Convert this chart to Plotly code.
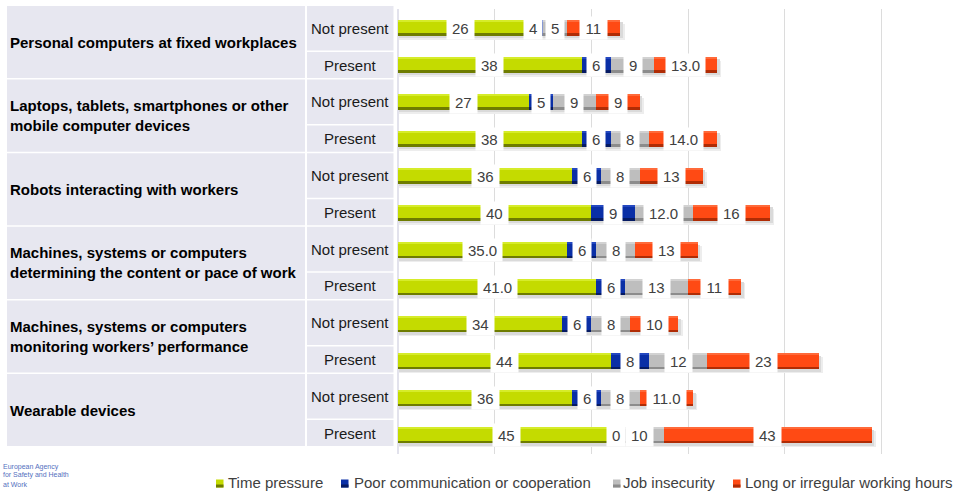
import plotly.graph_objects as go

# ---- data -------------------------------------------------------------
categories = [
    "Personal computers at fixed workplaces",
    "Laptops, tablets, smartphones or other<br>mobile computer devices",
    "Robots interacting with workers",
    "Machines, systems or computers<br>determining the content or pace of work",
    "Machines, systems or computers<br>monitoring workers’ performance",
    "Wearable devices",
]
subgroups = ["Not present", "Present"]

series_names = [
    "Time pressure",
    "Poor communication or cooperation",
    "Job insecurity",
    "Long or irregular working hours",
]

# one value per row: category x (Not present, Present)
time_pressure = [26, 38, 27, 38, 36, 40, 35.0, 41.0, 34, 44, 36, 45]
poor_communication = [4, 6, 5, 6, 6, 9, 6, 6, 6, 8, 6, 0]
job_insecurity = [5, 9, 9, 8, 8, 12.0, 8, 13, 8, 12, 8, 10]
long_hours = [11, 13.0, 9, 14.0, 13, 16, 13, 11, 10, 23, 11.0, 43]

# decimals shown in the value labels
time_pressure_dec = [0, 0, 0, 0, 0, 0, 1, 1, 0, 0, 0, 0]
poor_communication_dec = [0] * 12
job_insecurity_dec = [0, 0, 0, 0, 0, 1, 0, 0, 0, 0, 0, 0]
long_hours_dec = [0, 1, 0, 1, 0, 0, 0, 0, 0, 0, 1, 0]

x_ticks = [0, 20, 40, 60, 80, 100, 120]

logo_lines = ["European Agency", "for Safety and Health", "at Work"]

# ---- styling ----------------------------------------------------------
FONT = "Liberation Sans, Arial, sans-serif"
W_PX, H_PX = 956, 491
L, T, R, B = 398, 9, 0, 37
PW, PH = W_PX - L - R, H_PX - T - B
X_MAX = PW / 4.835          # ~4.835 px per percentage point

colors = {
    "Time pressure": ("#C4DB00", "#D6EC2A", "#6E7C00"),
    "Poor communication or cooperation": ("#0A2FA6", "#2448C0", "#051A63"),
    "Job insecurity": ("#BEBEBE", "#D2D2D2", "#8C8C8C"),
    "Long or irregular working hours": ("#FF4A14", "#FF6A3A", "#B02C05"),
}

n_rows = len(time_pressure)
rows = list(range(n_rows))
row_px = PH / n_rows
BAR_W = 16 / row_px
HALF = BAR_W / 2
EDGE = 2.5 / row_px
TOP_EDGE = 2.0 / row_px


def px2x(px):
    return (px - L) / PW


def py2y(py):
    return 1 - (py - T) / PH


values = [time_pressure, poor_communication, job_insecurity, long_hours]
decimals = [time_pressure_dec, poor_communication_dec, job_insecurity_dec, long_hours_dec]

totals = [sum(v[i] for v in values) for i in rows]

fig = go.Figure()

# soft drop shadow behind every stacked bar
for off, col, extra in [(4.0, "#EDEDED", 0.7), (2.5, "#DADADA", 0.4)]:
    fig.add_trace(go.Bar(
        orientation="h", y=rows, x=[t + extra for t in totals], base=[0.15] * n_rows,
        width=BAR_W, offset=-HALF + off / row_px,
        marker=dict(color=col, line=dict(width=0)),
        hoverinfo="skip", showlegend=False,
    ))

annotations = []
shapes = []
bases = [0.0] * n_rows
for name, vals, decs in zip(series_names, values, decimals):
    main, light, dark = colors[name]
    b = list(bases)
    # body
    fig.add_trace(go.Bar(
        orientation="h", y=rows, x=vals, base=b, width=BAR_W, offset=-HALF,
        marker=dict(color=main, line=dict(width=0)), name=name,
        hoverinfo="skip", showlegend=False,
    ))
    # highlight along the top
    fig.add_trace(go.Bar(
        orientation="h", y=rows, x=vals, base=b, width=TOP_EDGE, offset=-HALF,
        marker=dict(color=light, line=dict(width=0)),
        hoverinfo="skip", showlegend=False,
    ))
    # darker bottom edge
    fig.add_trace(go.Bar(
        orientation="h", y=rows, x=vals, base=b, width=EDGE, offset=HALF - EDGE,
        marker=dict(color=dark, line=dict(width=0)),
        hoverinfo="skip", showlegend=False,
    ))
    for i in rows:
        txt = f"{vals[i]:.{decs[i]}f}"
        tw = sum(4.17 if c == "." else 8.34 for c in txt) + 5
        annotations.append(dict(
            x=b[i] + vals[i] / 2, y=i, xref="x", yref="y", text=txt,
            showarrow=False, bgcolor="white", borderpad=2.5, width=tw, height=17,
            font=dict(family=FONT, size=15, color="#404040"),
        ))
        bases[i] = b[i] + vals[i]

# ---- table on the left -------------------------------------------------
CELL = "#E7E7F0"
cat_pitch = 73.6
for k, cat in enumerate(categories):
    top = 6 + cat_pitch * k
    bot = top + cat_pitch - 1.5
    split = top + 44.5
    shapes.append(dict(type="rect", xref="paper", yref="paper",
                       x0=px2x(7), x1=px2x(305), y0=py2y(top), y1=py2y(bot),
                       fillcolor=CELL, line=dict(width=0), layer="below"))
    shapes.append(dict(type="rect", xref="paper", yref="paper",
                       x0=px2x(307), x1=px2x(393.5), y0=py2y(top), y1=py2y(split),
                       fillcolor=CELL, line=dict(width=0), layer="below"))
    shapes.append(dict(type="rect", xref="paper", yref="paper",
                       x0=px2x(307), x1=px2x(393.5), y0=py2y(split + 1.5), y1=py2y(bot),
                       fillcolor=CELL, line=dict(width=0), layer="below"))
    annotations.append(dict(
        x=px2x(8), y=py2y((top + bot) / 2), xref="paper", yref="paper",
        xanchor="left", yanchor="middle", align="left", text=f"<b>{cat}</b>",
        showarrow=False, font=dict(family=FONT, size=15, color="#000000"),
    ))
    for j, (sg, cy) in enumerate(zip(subgroups, [(top + split) / 2, (split + 1.5 + bot) / 2])):
        annotations.append(dict(
            x=px2x(350), y=py2y(cy), xref="paper", yref="paper",
            xanchor="center", yanchor="middle", text=sg, showarrow=False,
            font=dict(family=FONT, size=15, color="#1A1A1A"),
        ))

# ---- legend ------------------------------------------------------------
legend_pos = [(216, 226), (341, 352), (613, 621), (733, 743)]
for name, (mx, tx) in zip(series_names, legend_pos):
    main, light, dark = colors[name]
    shapes.append(dict(type="rect", xref="paper", yref="paper",
                       x0=px2x(mx), x1=px2x(mx + 7.5), y0=py2y(479.5), y1=py2y(487.5),
                       fillcolor=main, line=dict(width=0)))
    shapes.append(dict(type="rect", xref="paper", yref="paper",
                       x0=px2x(mx), x1=px2x(mx + 7.5), y0=py2y(484.5), y1=py2y(487.5),
                       fillcolor=dark, line=dict(width=0)))
    annotations.append(dict(
        x=px2x(tx), y=py2y(482.5), xref="paper", yref="paper",
        xanchor="left", yanchor="middle", text=name, showarrow=False,
        font=dict(family=FONT, size=15, color="#404040"),
    ))

# agency logo text, bottom left
for txt, cy in zip(logo_lines, [466.5, 475.5, 484.5]):
    annotations.append(dict(
        x=px2x(1), y=py2y(cy), xref="paper", yref="paper",
        xanchor="left", yanchor="middle", text=txt, showarrow=False,
        font=dict(family=FONT, size=7, color="#5470C0"),
    ))

fig.update_layout(
    width=W_PX, height=H_PX,
    margin=dict(l=L, r=R, t=T, b=B),
    paper_bgcolor="white", plot_bgcolor="white",
    barmode="overlay", bargap=0,
    showlegend=False,
    xaxis=dict(range=[0, X_MAX], tickvals=x_ticks, showticklabels=False,
               showgrid=True, gridcolor="#DCDCDC", gridwidth=1,
               zeroline=True, zerolinecolor="#E2E2EC", zerolinewidth=1.5,
               showline=False, fixedrange=True),
    yaxis=dict(range=[n_rows - 0.5, -0.5], showticklabels=False, showgrid=False,
               zeroline=False, showline=False, fixedrange=True),
    shapes=shapes,
    annotations=annotations,
)

fig.write_html("out.html")
